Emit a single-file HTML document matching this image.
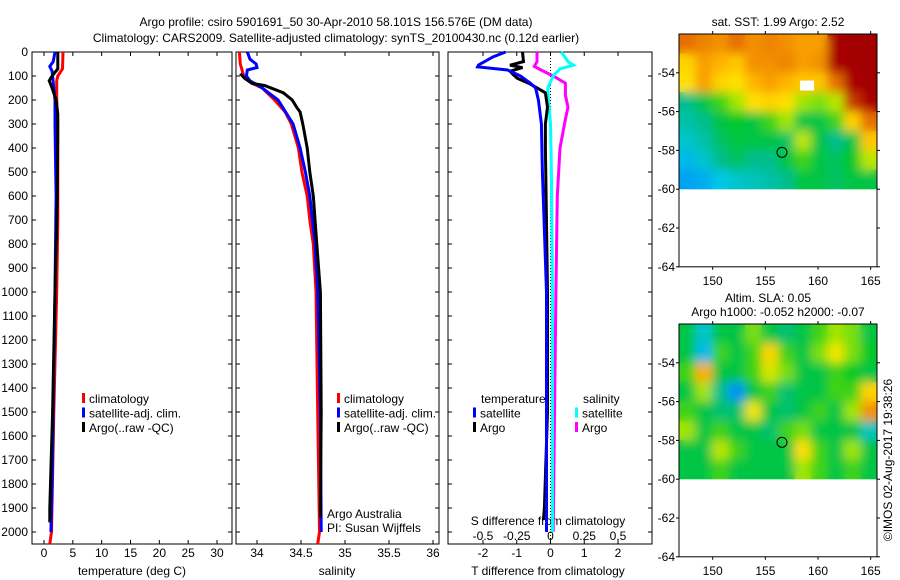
<!DOCTYPE html>
<html><head><meta charset="utf-8">
<style>
body{margin:0;background:#fff;}
svg{display:block;font-family:"Liberation Sans",sans-serif;font-size:12px;}
</style></head>
<body>
<svg id="chart" width="900" height="580" viewBox="0 0 900 580" xmlns="http://www.w3.org/2000/svg">
<defs>
<filter id="blur" x="-5%" y="-5%" width="110%" height="110%"><feGaussianBlur stdDeviation="5"/></filter>
<clipPath id="clip1"><rect x="679" y="34" width="198" height="155.2"/></clipPath>
<clipPath id="clip2"><rect x="679" y="324" width="198" height="155.2"/></clipPath>
</defs>
<text x="336" y="26" text-anchor="middle">Argo profile: csiro 5901691_50 30-Apr-2010 58.101S 156.576E (DM data)</text>
<text x="336" y="42" text-anchor="middle">Climatology: CARS2009. Satellite-adjusted climatology: synTS_20100430.nc (0.12d earlier)</text>
</svg>
<script>
// ---- data ----
const depthTicks=[0,100,200,300,400,500,600,700,800,900,1000,1100,1200,1300,1400,1500,1600,1700,1800,1900,2000];
const tTicks=[0,5,10,15,20,25,30];
const sTicks=[34,34.5,35,35.5,36];
const sTickLabels=["34","34.5","35","35.5","36"];
const dTTicks=[-2,-1,0,1,2];
const dSTicks=[-0.5,-0.25,0,0.25,0.5];
const dSTickLabels=["-0.5","-0.25","0","0.25","0.5"];
// temperature profiles
const tClimDepth=[0,70,100,120,200,300,700,1000,1500,2000,2050];
const tClimVal=[3.3,3.2,2.4,2.2,2.2,2.4,2.4,2.2,1.7,1.3,1.0];
const tSatDepth=[0,40,60,80,100,200,300,600,1000,1800,2000];
const tSatVal=[1.9,1.6,1.0,1.4,1.5,1.9,1.9,2.1,1.9,1.4,1.2];
const tArgoDepth=[0,70,100,120,150,200,260,600,1000,1500,1900,1960];
const tArgoVal=[2.4,2.4,1.4,0.9,1.4,2.1,2.4,2.3,1.9,1.5,1.0,1.0];
// salinity profiles
const sClimDepth=[0,50,100,130,150,200,250,300,400,500,600,700,800,1000,1500,2000,2050];
const sClimVal=[33.80,33.81,33.85,33.94,34.06,34.2,34.32,34.39,34.47,34.51,34.57,34.6,34.64,34.67,34.69,34.71,34.69];
const sSatDepth=[0,30,50,65,75,100,120,150,200,300,400,500,600,800,1000,1500,2000];
const sSatVal=[33.89,33.92,33.99,34.0,33.89,33.88,33.92,34.06,34.24,34.41,34.49,34.55,34.6,34.66,34.69,34.72,34.73];
const sArgoDepth=[90,110,130,140,170,200,230,250,300,400,500,600,800,1000,1500,1900,1940];
const sArgoVal=[33.81,33.86,33.94,34.09,34.3,34.4,34.45,34.49,34.52,34.57,34.6,34.64,34.68,34.72,34.73,34.72,34.72];
// differences
const dTSatDepth=[0,20,54,62,75,100,130,150,200,300,500,1000,2000];
const dTSatVal=[-1.33,-1.7,-2.13,-2.16,-1.27,-0.89,-0.6,-0.44,-0.36,-0.27,-0.24,-0.12,-0.12];
const dTArgoDepth=[0,40,55,65,80,95,110,130,150,170,230,300,400,1000,1500,1900,1950];
const dTArgoVal=[-0.83,-0.8,-1.2,-0.83,-1.2,-1.1,-0.98,-0.65,-0.39,-0.15,-0.09,-0.15,-0.15,-0.09,-0.09,-0.18,-0.21];
const dSSatDepth=[0,40,55,70,100,150,200,300,500,1000,2000];
const dSSatVal=[0.08,0.13,0.17,0.07,0.02,-0.02,-0.015,0,0.007,0.015,0.015];
const dSArgoDepth=[0,40,60,75,100,130,180,230,280,400,600,1000,2000];
const dSArgoVal=[-0.1,-0.1,-0.12,-0.07,0.02,0.11,0.11,0.13,0.11,0.07,0.05,0.04,0.02];
// maps (rows from -52 to -60 lat, cols from 146.8 to 165.6 lon), values 0..1 colour scale
const sstGrid=[
[0.85,0.82,0.8,0.85,0.8,0.82,0.8,0.78,0.78,0.95,0.97,0.97],
[0.7,0.78,0.75,0.72,0.8,0.8,0.82,0.78,0.8,0.95,0.97,0.97],
[0.68,0.78,0.7,0.68,0.75,0.78,0.75,0.72,0.72,0.85,0.95,0.97],
[0.45,0.5,0.55,0.6,0.68,0.7,0.68,0.6,0.58,0.62,0.9,0.95],
[0.42,0.45,0.5,0.52,0.5,0.55,0.6,0.5,0.5,0.55,0.7,0.85],
[0.38,0.42,0.48,0.5,0.5,0.5,0.48,0.62,0.5,0.45,0.5,0.72],
[0.32,0.38,0.45,0.48,0.45,0.45,0.5,0.55,0.5,0.48,0.52,0.62],
[0.28,0.3,0.35,0.38,0.4,0.42,0.45,0.5,0.5,0.48,0.5,0.5]];
const slaGrid=[
[0.5,0.38,0.5,0.5,0.58,0.5,0.47,0.5,0.55,0.6,0.58,0.5],
[0.5,0.32,0.55,0.5,0.55,0.7,0.55,0.5,0.58,0.66,0.58,0.52],
[0.55,0.76,0.5,0.5,0.55,0.64,0.58,0.5,0.5,0.55,0.52,0.5],
[0.5,0.6,0.45,0.25,0.5,0.55,0.47,0.5,0.5,0.55,0.55,0.7],
[0.55,0.5,0.47,0.47,0.66,0.5,0.47,0.5,0.55,0.5,0.6,0.8],
[0.6,0.5,0.55,0.5,0.5,0.47,0.55,0.58,0.5,0.5,0.5,0.4],
[0.5,0.5,0.62,0.55,0.5,0.5,0.5,0.68,0.55,0.5,0.6,0.5],
[0.5,0.5,0.55,0.5,0.5,0.5,0.5,0.6,0.55,0.5,0.55,0.5]];
const lonTicks=[150,155,160,165];
const latTicks=[-54,-56,-58,-60,-62,-64];
const argoLon=156.576, argoLat=-58.101;

// ---- helpers ----
const svg=document.getElementById('chart');
const NS='http://www.w3.org/2000/svg';
function mk(tag,attrs,parent){const e=document.createElementNS(NS,tag);for(const k in attrs)e.setAttribute(k,attrs[k]);(parent||svg).appendChild(e);return e;}
function txt(x,y,s,anchor,parent){const e=mk('text',{x:x,y:y,'text-anchor':anchor||'start'},parent);e.textContent=s;return e;}
const Y0=52, Y1=544;
function yDepth(d){return Y0+d*0.24;}
function scale(v0,p0,v1,p1){return v=>p0+(v-v0)*(p1-p0)/(v1-v0);}

const panels=[
 {name:'temperature-panel',x0:32,x1:232},
 {name:'salinity-panel',x0:236,x1:439},
 {name:'difference-panel',x0:448,x1:652}];
const xT=scale(0,44,30,217);
const xS=scale(34,257,36,433);
const xDT=scale(-2,483,2,618);
const xDS=scale(-0.5,483,0.5,618);

panels.forEach((p,i)=>{
 const g=mk('g',{});
 
 
 mk('rect',{x:p.x0,y:Y0,width:p.x1-p.x0,height:Y1-Y0,fill:'none',stroke:'#000','stroke-width':1},g);
 depthTicks.forEach(d=>{const y=yDepth(d);
  mk('line',{x1:p.x0,x2:p.x0+4,y1:y,y2:y,stroke:'#000'},g);
  mk('line',{x1:p.x1-4,x2:p.x1,y1:y,y2:y,stroke:'#000'},g);});
});
const yl=mk('g',{});


depthTicks.forEach(d=>{txt(28,yDepth(d)+4,String(d),'end',yl);});

function xAxis(ticks,labels,sx,p,ylab,name,top){
 const g=mk('g',{});
 
 
 ticks.forEach((t,i)=>{const x=sx(t);
  if(!top){mk('line',{x1:x,x2:x,y1:Y1,y2:Y1-4,stroke:'#000'},g);mk('line',{x1:x,x2:x,y1:Y0,y2:Y0+4,stroke:'#000'},g);}
  txt(x,ylab,labels[i],'middle',g);});
}
xAxis(tTicks,tTicks.map(String),xT,panels[0],557,'temperature-x-axis');
xAxis(sTicks,sTickLabels,xS,panels[1],557,'salinity-x-axis');
xAxis(dTTicks,dTTicks.map(String),xDT,panels[2],557,'t-diff-x-axis');
xAxis(dSTicks,dSTickLabels,xDS,panels[2],540,'s-diff-x-axis',true);
function lab(x,y,s,name){const e=txt(x,y,s,'middle');}
lab(132,575,'temperature (deg C)','temperature-axis-title');
lab(337,575,'salinity','salinity-axis-title');
lab(548,575,'T difference from climatology','t-diff-axis-title');
lab(548,525,'S difference from climatology','s-diff-axis-title');
const aa=txt(327,518,'Argo Australia');
const pi=txt(327,532,'PI: Susan Wijffels');

const zl=mk('line',{x1:xDT(0),x2:xDT(0),y1:Y0,y2:Y1,stroke:'#000','stroke-dasharray':'1,2'});



function profile(depths,vals,sx,color,name){
 const pts=depths.map((d,i)=>sx(vals[i]).toFixed(1)+','+yDepth(d).toFixed(1)).join(' ');
 const e=mk('polyline',{points:pts,fill:'none',stroke:color,'stroke-width':3,'stroke-linejoin':'miter'});
 
 
}
profile(tClimDepth,tClimVal,xT,'#f00','temp-climatology-line');
profile(tSatDepth,tSatVal,xT,'#00f','temp-satellite-line');
profile(tArgoDepth,tArgoVal,xT,'#000','temp-argo-line');
profile(sClimDepth,sClimVal,xS,'#f00','sal-climatology-line');
profile(sSatDepth,sSatVal,xS,'#00f','sal-satellite-line');
profile(sArgoDepth,sArgoVal,xS,'#000','sal-argo-line');
profile(dSArgoDepth,dSArgoVal,xDS,'#f0f','s-diff-argo-line');
profile(dSSatDepth,dSSatVal,xDS,'#0ff','s-diff-satellite-line');
profile(dTArgoDepth,dTArgoVal,xDT,'#000','t-diff-argo-line');
profile(dTSatDepth,dTSatVal,xDT,'#00f','t-diff-satellite-line');

function legendEntry(x,y,color,label){
 const g=mk('g',{});
 
 
 mk('rect',{x:x,y:y-10,width:3,height:10,fill:color},g);
 txt(x+7,y,label,'start',g);
}
[[82,'#f00','climatology'],[82,'#00f','satellite-adj. clim.'],[82,'#000','Argo(..raw -QC)']].forEach((e,i)=>legendEntry(e[0],403+i*14.5,e[1],e[2]));
[[337,'#f00','climatology'],[337,'#00f','satellite-adj. clim.'],[337,'#000','Argo(..raw -QC)']].forEach((e,i)=>legendEntry(e[0],403+i*14.5,e[1],e[2]));
const lt=txt(481,403,'temperature');
const ls=txt(583,403,'salinity');
legendEntry(473,417.5,'#00f','satellite');
legendEntry(473,432,'#000','Argo');
legendEntry(575,417.5,'#0ff','satellite');
legendEntry(575,432,'#f0f','Argo');

// ---- maps ----
function jet(v){
 const stops=[[0,[0,0,200]],[0.2,[0,120,255]],[0.35,[0,200,230]],[0.45,[0,190,140]],[0.52,[0,200,40]],[0.6,[160,230,0]],[0.67,[255,230,0]],[0.75,[255,180,0]],[0.85,[230,110,0]],[0.95,[170,0,0]],[1,[150,0,0]]];
 for(let i=1;i<stops.length;i++){if(v<=stops[i][0]){const a=stops[i-1],b=stops[i];const f=(v-a[0])/(b[0]-a[0]);
  return 'rgb('+a[1].map((c,k)=>Math.round(c+(b[1][k]-c)*f)).join(',')+')';}}
 return 'rgb(150,0,0)';
}
function map(top,grid,name,clipId){
 const x0=679,x1=877,lonMin=146.8,lonMax=165.6;
 const sx=scale(lonMin,x0,lonMax,x1);
 const sy=scale(-52,top,-64,top+12*19.4);
 const g=mk('g',{});
 
 
 const rows=grid.length,cols=grid[0].length;
 const dLon=(lonMax-lonMin)/cols,dLat=8/rows;
 const layers=[mk('g',{'clip-path':'url(#'+clipId+')'},g)];
 layers.push(mk('g',{'clip-path':'url(#'+clipId+')'},g));
 const blurG=mk('g',{filter:'url(#blur)'},layers[1]);
 [layers[0],blurG].forEach(par=>{
  grid.forEach((row,r)=>row.forEach((v,c)=>{
   const xa=sx(lonMin+c*dLon),xb=sx(lonMin+(c+1)*dLon),ya=sy(-52-r*dLat),yb=sy(-52-(r+1)*dLat);
   const cell=mk('rect',{x:xa,y:ya,width:xb-xa+0.5,height:yb-ya+0.5,fill:jet(v)},par);
   
   
  }));
 });
 mk('rect',{x:x0,y:top,width:x1-x0,height:sy(-64)-top,fill:'none',stroke:'#000'},g);
 latTicks.forEach(l=>{const y=sy(l);
  mk('line',{x1:x0-3,x2:x0,y1:y,y2:y,stroke:'#000'},g);
  mk('line',{x1:x1,x2:x1+3,y1:y,y2:y,stroke:'#000'},g);
  txt(x0-4,y+4,String(l),'end',g);});
 lonTicks.forEach(l=>{const x=sx(l);
  mk('line',{x1:x,x2:x,y1:top,y2:top-3,stroke:'#000'},g);
  mk('line',{x1:x,x2:x,y1:sy(-64),y2:sy(-64)+3,stroke:'#000'},g);
  txt(x,sy(-64)+18,String(l),'middle',g);});
 const m=mk('circle',{cx:sx(argoLon),cy:sy(argoLat),r:5,fill:'none',stroke:'#000'},g);
 
 
 return {sx,sy,g};
}
const m1=map(34,sstGrid,'sst-map','clip1');
const wb=mk('rect',{x:m1.sx(158.3),y:m1.sy(-54.4),width:14,height:10,fill:'#fff'},m1.g);


const m2=map(324,slaGrid,'sla-map','clip2');
const t1=txt(778,26,'sat. SST: 1.99 Argo: 2.52','middle');
const t2=txt(768,302,'Altim. SLA: 0.05','middle');
const t3=txt(778,316,'Argo h1000: -0.052 h2000: -0.07','middle');
const cr=txt(0,0,'©IMOS 02-Aug-2017 19:38:26','middle');
cr.setAttribute('transform','translate(892,460) rotate(-90)');


</script>
</body></html>
